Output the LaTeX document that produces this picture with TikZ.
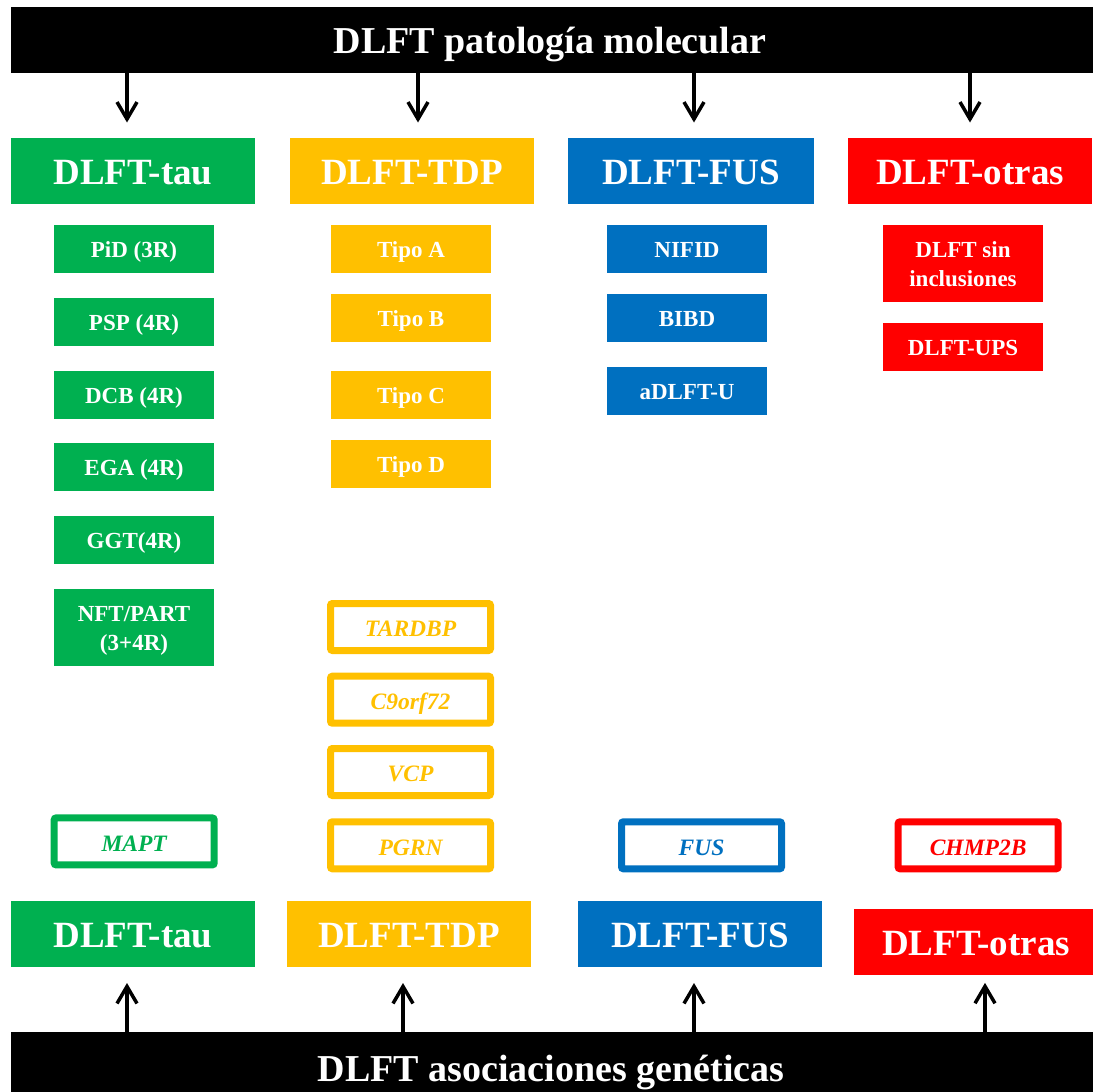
\documentclass[tikz,border=0pt]{standalone}
\usepackage{fontspec}
\setmainfont{Liberation Serif}
\usetikzlibrary{arrows.meta}
\definecolor{cgreen}{HTML}{00B050}
\definecolor{cyellow}{HTML}{FFC000}
\definecolor{cblue}{HTML}{0070C0}
\definecolor{cred}{HTML}{FF0000}
\newcommand{\twolines}[2]{\begin{tabular}[t]{@{}c@{}}#1\\#2\end{tabular}}
\begin{document}
\begin{tikzpicture}[x=1pt,y=-1pt,
  bar/.style={fill=black, minimum width=1095pt, minimum height=#1, inner sep=0pt, anchor=north west},
  titletext/.style={text=white, font=\fontsize{38}{42}\selectfont\bfseries, anchor=base, inner sep=0pt},
  head/.style={fill=#1, text=white, minimum width=244pt, minimum height=66pt, inner sep=0pt,
    text height=26.6pt, text depth=0pt, font=\fontsize{37}{40}\selectfont\bfseries},
  subbox/.style={fill=#1, text=white, minimum width=160pt, minimum height=47.7pt, inner sep=0pt,
    text height=17.25pt, text depth=0pt, font=\fontsize{23}{30}\selectfont\bfseries},
  subtwo/.style={fill=#1, text=white, minimum width=160pt, minimum height=76.7pt, inner sep=0pt,
    text height=17.25pt, text depth=29.5pt, font=\fontsize{23}{29.5}\selectfont\bfseries},
  gene/.style={draw=#1, line width=7pt, rounded corners=2pt, fill=white, text=#1, minimum width=160pt,
    minimum height=47pt, inner sep=0pt, text height=19.7pt, text depth=0pt,
    font=\fontsize{23.5}{28}\selectfont\bfseries\itshape},
  arr/.style={line width=3.5pt, -{Straight Barb[length=17pt,width=20pt]}},
]
\useasboundingbox (0,0) rectangle (1093,1092);

% bars
\node[bar=66pt] (top) at (11,7) {};
\node[titletext] (topT) at (550,53.3) {DLFT patología molecular};
\node[bar=70pt] (bot) at (11,1032) {};
\node[titletext] (botT) at (551,1081.7) {DLFT asociaciones genéticas};

% top headers
\node[head=cgreen]  (tau)   at (133,171) {DLFT-tau};
\node[head=cyellow] (tdp)   at (412,171) {DLFT-TDP};
\node[head=cblue, minimum width=246pt] (fus) at (691,171) {DLFT-FUS};
\node[head=cred]    (otras) at (970,171) {DLFT-otras};

% tau subtypes
\node[subbox=cgreen] (pid) at (134,248.9) {PiD (3R)};
\node[subbox=cgreen] (psp) at (134,321.7) {PSP (4R)};
\node[subbox=cgreen] (dcb) at (134,394.8) {DCB (4R)};
\node[subbox=cgreen] (ega) at (134,466.8) {EGA (4R)};
\node[subbox=cgreen] (ggt) at (134,539.8) {GGT(4R)};
\node[subtwo=cgreen] (nft) at (134,627.3) {\twolines{NFT/PART}{(3+4R)}};

% TDP subtypes
\node[subbox=cyellow] (ta) at (411,248.9) {Tipo A};
\node[subbox=cyellow] (tb) at (411,317.9) {Tipo B};
\node[subbox=cyellow] (tc) at (411,395) {Tipo C};
\node[subbox=cyellow] (td) at (411,463.9) {Tipo D};

% FUS subtypes
\node[subbox=cblue] (nifid) at (687,248.9) {NIFID};
\node[subbox=cblue] (bibd)  at (687,317.9) {BIBD};
\node[subbox=cblue] (adlft) at (687,390.9) {aDLFT-U};

% otras subtypes
\node[subtwo=cred] (sin) at (963,263.4) {\twolines{DLFT sin}{inclusiones}};
\node[subbox=cred] (ups) at (963,346.9) {DLFT-UPS};

% genes
\node[gene=cgreen]  (mapt)   at (134.2,841.4) {MAPT};
\node[gene=cyellow] (tardbp) at (410.5,627) {TARDBP};
\node[gene=cyellow] (c9)     at (410.5,699.7) {C9orf72};
\node[gene=cyellow] (vcp)    at (410.5,772) {VCP};
\node[gene=cyellow] (pgrn)   at (410.5,845.3) {PGRN};
\node[gene=cblue]   (gfus)   at (701.5,845.3) {FUS};
\node[gene=cred]    (chmp)   at (978.1,845.3) {CHMP2B};

% bottom headers
\node[head=cgreen]  (btau)   at (133,933.8) {DLFT-tau};
\node[head=cyellow] (btdp)   at (409,933.8) {DLFT-TDP};
\node[head=cblue]   (bfus)   at (700,933.8) {DLFT-FUS};
\node[head=cred, minimum height=65.7pt] (botras) at (976,941.8) {DLFT-otras};

% arrow positions
\coordinate (a1) at (127,0);
\coordinate (a2) at (418,0);
\coordinate (a3) at (694,0);
\coordinate (a4) at (970,0);
\coordinate (b1) at (127,0);
\coordinate (b2) at (403,0);
\coordinate (b3) at (694,0);
\coordinate (b4) at (985,0);

\draw[arr, shorten >=15.3pt] (a1 |- top.south) -- (a1 |- tau.north);
\draw[arr, shorten >=15.3pt] (a2 |- top.south) -- (a2 |- tdp.north);
\draw[arr, shorten >=15.3pt] (a3 |- top.south) -- (a3 |- fus.north);
\draw[arr, shorten >=15.3pt] (a4 |- top.south) -- (a4 |- otras.north);

\draw[arr, shorten >=16pt] (b1 |- bot.north) -- (b1 |- btau.south);
\draw[arr, shorten >=16pt] (b2 |- bot.north) -- (b2 |- btdp.south);
\draw[arr, shorten >=16pt] (b3 |- bot.north) -- (b3 |- bfus.south);
\draw[arr, shorten >=8pt]  (b4 |- bot.north) -- (b4 |- botras.south);
\end{tikzpicture}
\end{document}
